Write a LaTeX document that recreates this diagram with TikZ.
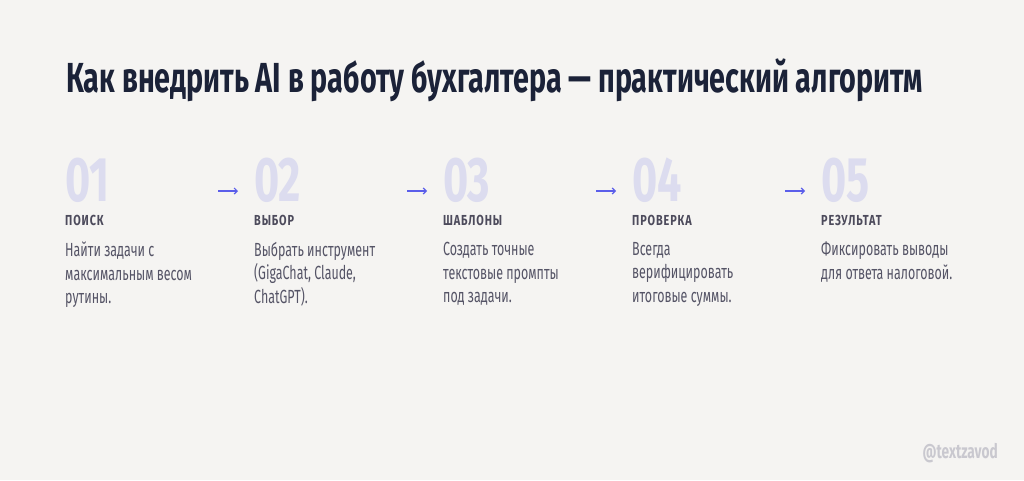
\documentclass[tikz,border=0pt]{standalone}
\usepackage{fontspec}
\usepackage{tikz}
\usetikzlibrary{positioning,calc,arrows.meta}
\setmainfont{Fira Sans}
\newfontfamily\headfont{Fira Sans}[FakeStretch=0.684]
\newfontfamily\bodyfont{Fira Sans}[FakeStretch=0.655]
\newfontfamily\labfont{Fira Sans}[FakeStretch=0.75,LetterSpace=6]
\definecolor{bgcol}{HTML}{F5F4F2}
\definecolor{titlecol}{HTML}{1B2238}
\definecolor{numcol}{HTML}{DCDCEF}
\definecolor{labcol}{HTML}{4D4B5C}
\definecolor{bodycol}{HTML}{555466}
\definecolor{arrcol}{HTML}{5B5EEA}
\definecolor{markcol}{HTML}{C9C8CF}
\tikzset{>=Stealth,
  titletxt/.style={anchor=base west,inner sep=0,text=titlecol,font=\headfont\bfseries\fontsize{42}{46}\selectfont},
  numtxt/.style={anchor=base west,inner sep=0,text=numcol,font=\headfont\bfseries\fontsize{63}{66}\selectfont},
  labtxt/.style={anchor=base west,inner sep=0,text=labcol,font=\labfont\bfseries\fontsize{14.5}{16}\selectfont},
  bodytxt/.style={anchor=north west,inner sep=0,align=left,text=bodycol,font=\bodyfont\fontsize{19}{23.5}\selectfont},
  flow/.style={arrcol,line width=1.2pt,-{Straight Barb[length=3pt,width=6pt]}},
  marktxt/.style={anchor=base east,inner sep=0,text=markcol,font=\headfont\bfseries\fontsize{20}{22}\selectfont}}

\begin{document}
\begin{tikzpicture}[x=1pt,y=-1pt]
\fill[bgcol] (0,0) rectangle (1024,480);
\useasboundingbox (0,0) rectangle (1024,480);
\node[titletxt] (title) at (66,92) {Как внедрить AI в работу бухгалтера — практический алгоритм};
% steps
\node[numtxt] (n1) at (65,201) {01};
\node[labtxt] (l1) at (65,225) {ПОИСК};
\node[bodytxt] (b1) at (65,242) {Найти задачи с\\максимальным весом\\рутины.};
\node[numtxt] (n2) at (254,201) {02};
\node[labtxt] (l2) at (254,225) {ВЫБОР};
\node[bodytxt] (b2) at (254,242) {Выбрать инструмент\\(GigaChat, Claude,\\ChatGPT).};
\node[numtxt] (n3) at (443,201) {03};
\node[labtxt] (l3) at (443,225) {ШАБЛОНЫ};
\node[bodytxt] (b3) at (443,242) {Создать точные\\текстовые промпты\\под задачи.};
\node[numtxt] (n4) at (632,201) {04};
\node[labtxt] (l4) at (632,225) {ПРОВЕРКА};
\node[bodytxt] (b4) at (632,242) {Всегда\\верифицировать\\итоговые суммы.};
\node[numtxt] (n5) at (821,201) {05};
\node[labtxt] (l5) at (821,225) {РЕЗУЛЬТАТ};
\node[bodytxt] (b5) at (821,242) {Фиксировать выводы\\для ответа налоговой.};
% arrows between steps
\coordinate (a1s) at (218,191); \coordinate (a1e) at (238,191);
\coordinate (a2s) at (407,191); \coordinate (a2e) at (427,191);
\coordinate (a3s) at (596,191); \coordinate (a3e) at (616,191);
\coordinate (a4s) at (785,191); \coordinate (a4e) at (805,191);
\draw[flow] (a1s) -- (a1e);
\draw[flow] (a2s) -- (a2e);
\draw[flow] (a3s) -- (a3e);
\draw[flow] (a4s) -- (a4e);
\node[marktxt] (mark) at (998,458) {@textzavod};
\end{tikzpicture}
\end{document}
